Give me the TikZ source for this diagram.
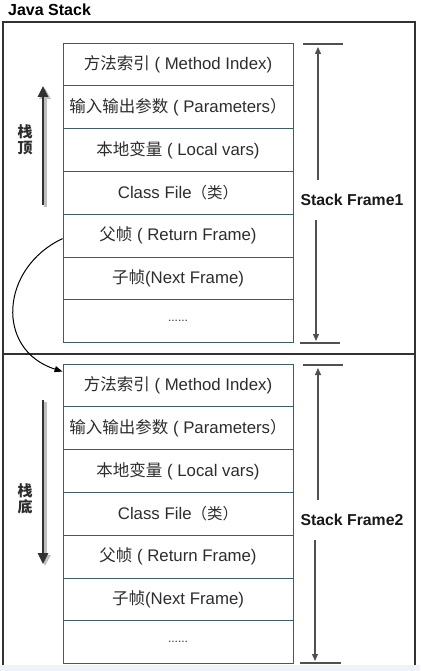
\documentclass[tikz,border=0pt]{standalone}
\usepackage{fontspec}
\setmainfont{Liberation Sans}
\newfontfamily\cjk{Noto Sans CJK SC}
\usetikzlibrary{arrows.meta}
\definecolor{txt}{RGB}{45,45,45}
\definecolor{rowline}{RGB}{62,92,104}
\definecolor{framecol}{RGB}{50,50,50}
\definecolor{strip}{RGB}{238,243,250}
\definecolor{arrgray}{RGB}{80,80,80}
\newcommand{\cj}[1]{{\cjk\fontsize{16.5}{18}\selectfont #1}}
\newcommand{\cjs}[1]{{\cjk\fontsize{15.5}{18}\selectfont #1}}
\tikzset{
  rowbox/.style={draw=rowline, line width=0.9pt, minimum width=230pt, minimum height=42.8pt, inner sep=0pt, text=txt, font=\fontsize{16.8}{18}\selectfont, anchor=center},
  outerframe/.style={draw=framecol, line width=1.8pt},
  bigarrow/.style={draw=framecol, line width=2.6pt, -{Triangle[length=11pt,width=10pt]}},
  bigshadow/.style={draw=black!25, line width=3pt, -{Triangle[length=11pt,width=11pt]}},
  sfarrow/.style={draw=arrgray, line width=1.3pt, -{Triangle[length=7pt,width=6pt]}},
  sftick/.style={draw=arrgray, line width=1.5pt},
  sflabel/.style={font=\bfseries\fontsize{15.8}{18}\selectfont, text=black!90},
  sidelabel/.style={font=\cjk\bfseries\fontsize{15}{16}\selectfont, text=txt, align=center, inner sep=0pt},
  curvearrow/.style={draw=black, line width=1pt, -{Triangle[length=8pt,width=6pt]}}
}
\begin{document}
\begin{tikzpicture}[x=1pt,y=-1pt]
\useasboundingbox (0,0) rectangle (420,671);
\fill[white] (0,0) rectangle (420,671);
\fill[strip] (0,665) rectangle (420,671);
% title
\node[font=\bfseries\fontsize{16}{18}\selectfont, anchor=west, inner sep=0pt] (title) at (8,10) {Java Stack};
% outer frame
\draw[outerframe] (3,665) -- (3,22) -- (415,22) -- (415,665);
\draw[outerframe] (3,354) -- (415,354);
% upper frame rows
\node[rowbox] (a1) at (178,64.4) {\cj{方法索引} ( Method Index)};
\node[rowbox] (a2) at (178,107.2) {\cj{输入输出参数} ( Parameters\cj{）}};
\node[rowbox] (a3) at (178,150.0) {\cj{本地变量} ( Local vars)};
\node[rowbox] (a4) at (178,192.8) {Class File\cjs{（类）}};
\node[rowbox] (a5) at (178,235.6) {\cj{父帧} ( Return Frame)};
\node[rowbox] (a6) at (178,278.4) {\cj{子帧}(Next Frame)};
\node[rowbox] (a7) at (178,321.2) {\fontsize{12}{14}\selectfont ......};
% lower frame rows
\node[rowbox] (b1) at (178,385.4) {\cj{方法索引} ( Method Index)};
\node[rowbox] (b2) at (178,428.2) {\cj{输入输出参数} ( Parameters\cj{）}};
\node[rowbox] (b3) at (178,471.0) {\cj{本地变量} ( Local vars)};
\node[rowbox] (b4) at (178,513.8) {Class File\cjs{（类）}};
\node[rowbox] (b5) at (178,556.6) {\cj{父帧} ( Return Frame)};
\node[rowbox] (b6) at (178,599.4) {\cj{子帧}(Next Frame)};
\node[rowbox] (b7) at (178,642.2) {\fontsize{12}{14}\selectfont ......};
% left labels and arrows
\node[sidelabel] (top) at (25,140) {栈\\顶};
\node[sidelabel] (bot) at (25,499) {栈\\底};
\coordinate (u1) at (43,205);
\coordinate (u2) at (43,86);
\coordinate (l1) at (43,400);
\coordinate (l2) at (43,564);
\draw[bigshadow] ([xshift=2pt,yshift=-2pt]u1) -- ([xshift=2pt,yshift=-2pt]u2);
\draw[bigarrow] (u1) -- (u2);
\draw[bigshadow] ([xshift=2pt,yshift=-2pt]l1) -- ([xshift=2pt,yshift=-2pt]l2);
\draw[bigarrow] (l1) -- (l2);
% curved arrow
\draw[curvearrow] ([yshift=-3pt]a5.west) .. controls (0,268) and (-5,350) .. ([yshift=-8pt]b1.north west);
% stack frame 1
\node[sflabel] (sf1) at (352,200) {Stack Frame1};
\coordinate (t1a) at (303,44); \coordinate (t1b) at (343,44);
\coordinate (t2a) at (300,343); \coordinate (t2b) at (340,343);
\draw[sftick] (t1a) -- (t1b);
\draw[sftick] (t2a) -- (t2b);
\coordinate (s1a) at (318,180); \coordinate (s1b) at (318,47);
\coordinate (s1c) at (316,220); \coordinate (s1d) at (316,341);
\draw[sfarrow] (s1a) -- (s1b);
\draw[sfarrow] (s1c) -- (s1d);
% stack frame 2
\node[sflabel] (sf2) at (352,520) {Stack Frame2};
\coordinate (t3a) at (303,365); \coordinate (t3b) at (343,365);
\coordinate (t4a) at (300,663); \coordinate (t4b) at (341,663);
\draw[sftick] (t3a) -- (t3b);
\draw[sftick] (t4a) -- (t4b);
\coordinate (s2a) at (318,500); \coordinate (s2b) at (318,368);
\coordinate (s2c) at (315,540); \coordinate (s2d) at (315,661);
\draw[sfarrow] (s2a) -- (s2b);
\draw[sfarrow] (s2c) -- (s2d);
\end{tikzpicture}
\end{document}
